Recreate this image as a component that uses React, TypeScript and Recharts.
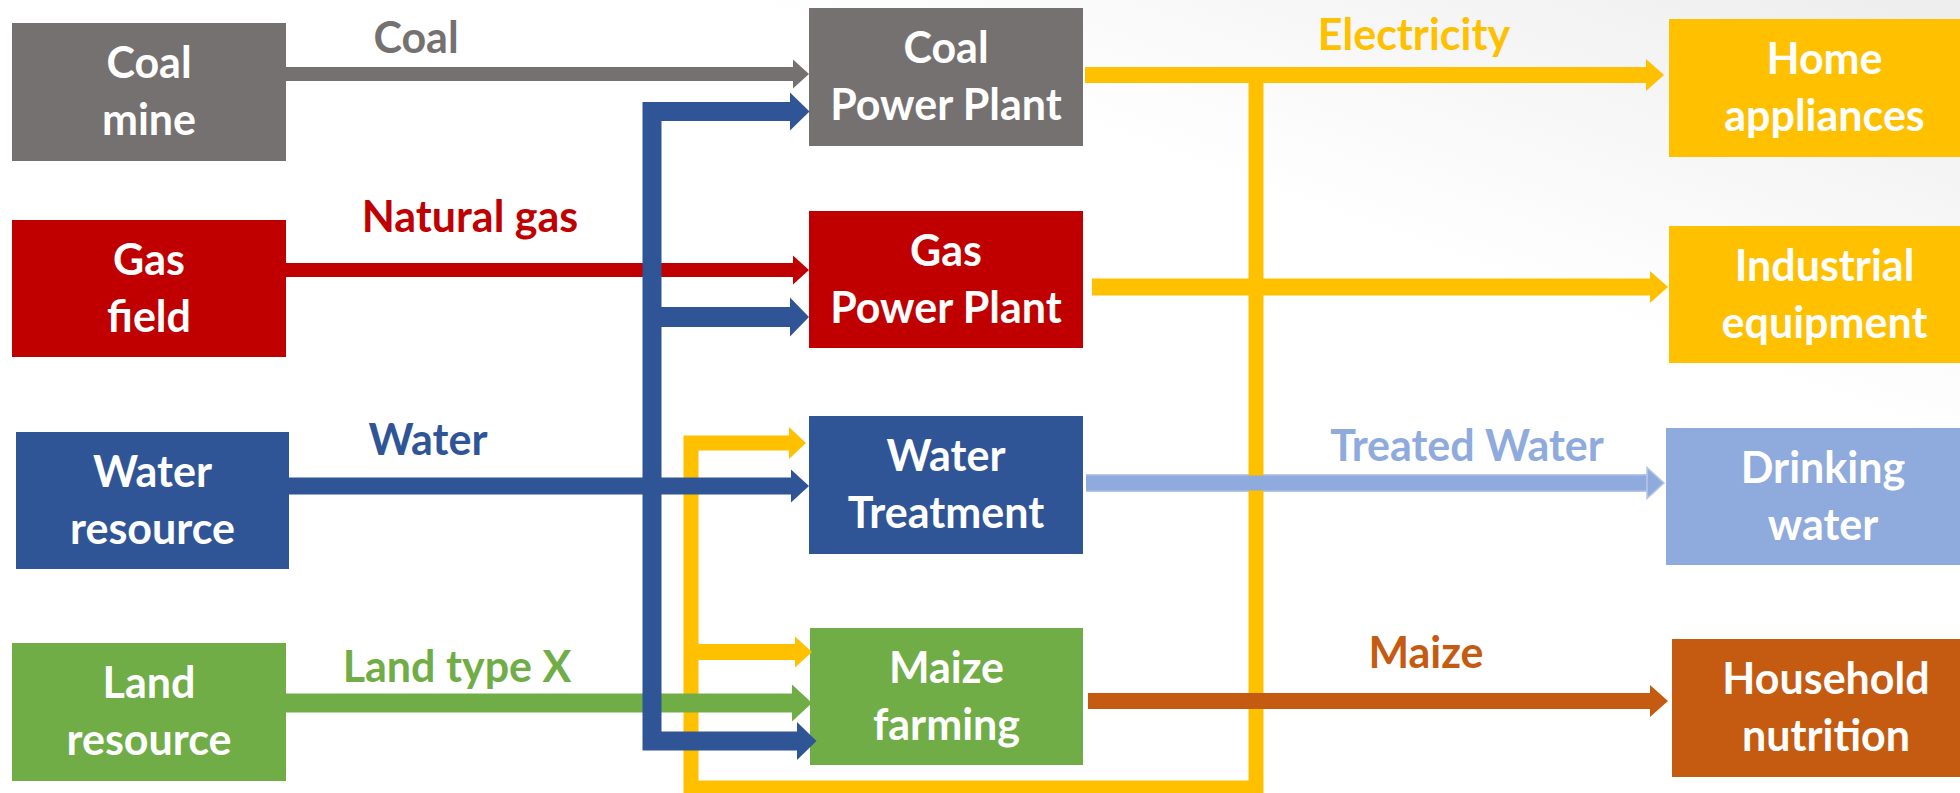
import React from 'react';
import { ComposedChart, XAxis, YAxis, Line, ReferenceArea, Scatter } from 'recharts';

// ---------------- data ----------------
const nodeIds = ['coalMine', 'gasField', 'waterRes', 'landRes', 'coalPP', 'gasPP', 'waterTreat', 'maizeFarm', 'home', 'industrial', 'drinking', 'household'];
const nodeLabels = [
  ['Coal', 'mine'], ['Gas', 'field'], ['Water', 'resource'], ['Land', 'resource'],
  ['Coal', 'Power Plant'], ['Gas', 'Power Plant'], ['Water', 'Treatment'], ['Maize', 'farming'],
  ['Home', 'appliances'], ['Industrial', 'equipment'], ['Drinking', 'water'], ['Household', 'nutrition'],
];
const flowIds = ['coal', 'gas', 'water', 'land', 'elec', 'treated', 'maize'];
const flowLabels = ['Coal', 'Natural gas', 'Water', 'Land type X', 'Electricity', 'Treated Water', 'Maize'];

// ---------------- styles ----------------
const GRAY = '#767171';
const RED = '#C00000';
const BLUE = '#2F5597';
const GREEN = '#70AD47';
const YELLOW = '#FFC000';
const LBLUE = '#8FAADC';
const ORANGE = '#C55A11';
const FONT = 'Lato, "Open Sans", sans-serif';

const nodeColors = [GRAY, RED, BLUE, GREEN, GRAY, RED, BLUE, GREEN, YELLOW, YELLOW, LBLUE, ORANGE];
const flowColors = [GRAY, RED, BLUE, GREEN, YELLOW, LBLUE, ORANGE];

// ---------------- layout (diagram units) ----------------
const W = 1960;
const H = 793;
const boxes: Record<string, [number, number, number, number]> = {
  coalMine: [12, 286, 23, 161],
  gasField: [12, 286, 220, 357],
  waterRes: [16, 289, 432, 569],
  landRes: [12, 286, 643, 781],
  coalPP: [809, 1083, 8, 146],
  gasPP: [809, 1083, 211, 348],
  waterTreat: [809, 1083, 416, 554],
  maizeFarm: [810, 1083, 628, 765],
  home: [1669, 1980, 19, 157],
  industrial: [1669, 1980, 226, 363],
  drinking: [1666, 1980, 428, 565],
  household: [1672, 1980, 639, 777],
};
const labelAnchors: Record<string, [number, number]> = {
  coal: [416, 53],
  gas: [470, 232],
  water: [428, 455],
  land: [457, 682],
  elec: [1414, 50],
  treated: [1467, 461],
  maize: [1426, 668],
};

type Seg = { color: string; width: number; pts: [number, number][]; heads: number[]; len: number; half: number; outline?: string };
const segments: Seg[] = [
  { color: YELLOW, width: 15, pts: [[1256, 75], [1256, 788], [691, 788], [691, 443], [790, 443]], heads: [4], len: 16, half: 16 },
  { color: YELLOW, width: 16, pts: [[691, 652], [796, 652]], heads: [1], len: 16, half: 15.5 },
  { color: YELLOW, width: 16, pts: [[1085, 75], [1647, 75]], heads: [1], len: 17, half: 16 },
  { color: YELLOW, width: 17, pts: [[1092, 287], [1651, 287]], heads: [1], len: 17, half: 16 },
  { color: RED, width: 14, pts: [[286, 270], [794, 270]], heads: [1], len: 15, half: 14.5 },
  { color: GREEN, width: 19, pts: [[286, 703], [793, 703]], heads: [1], len: 19, half: 18.5 },
  { color: GRAY, width: 14, pts: [[286, 74], [794, 74]], heads: [1], len: 15, half: 14.5 },
  { color: BLUE, width: 19, pts: [[791, 111.5], [652, 111.5], [652, 741], [798, 741]], heads: [0, 3], len: 18.5, half: 19 },
  { color: BLUE, width: 20, pts: [[652, 317], [791, 317]], heads: [1], len: 18, half: 19.5 },
  { color: BLUE, width: 17, pts: [[289, 486], [792, 486]], heads: [1], len: 17, half: 16.5 },
  { color: LBLUE, width: 15, pts: [[1086, 483], [1648, 483]], heads: [1], len: 16, half: 15.5, outline: '#B4C7E7' },
  { color: ORANGE, width: 16, pts: [[1088, 701], [1651, 701]], heads: [1], len: 17, half: 16 },
];

const labelData = flowIds.map((id, i) => ({ x: labelAnchors[id][0], y: labelAnchors[id][1], text: flowLabels[i], color: flowColors[i] }));

const makeDot = (s: Seg) => (p: any) => {
  const { cx, cy, index } = p;
  if (!s.heads.includes(index)) return <g key={`d${index}`} />;
  const pts = `${cx - 1},${cy - s.half} ${cx + s.len},${cy} ${cx - 1},${cy + s.half}`;
  return (
    <polygon key={`d${index}`} points={pts} fill={s.color}
      stroke={s.outline || 'none'} strokeWidth={s.outline ? 1.5 : 0} strokeLinejoin="miter" />
  );
};

const boxShape = (idx: number) => (p: any) => {
  const { x, y, width, height } = p;
  const cx = x + width / 2;
  const cy = y + height / 2;
  const [l1, l2] = nodeLabels[idx];
  return (
    <g>
      <rect x={x} y={y} width={width} height={height} fill={nodeColors[idx]} />
      <text x={cx} y={cy - 14} textAnchor="middle" fill="#FFFFFF" fontFamily={FONT} fontWeight={700} fontSize={43}>{l1}</text>
      <text x={cx} y={cy + 43} textAnchor="middle" fill="#FFFFFF" fontFamily={FONT} fontWeight={700} fontSize={43}>{l2}</text>
    </g>
  );
};

const labelShape = (p: any) => {
  const { cx, cy, payload } = p;
  return (
    <text x={cx} y={cy} textAnchor="middle" fill={payload.color} fontFamily={FONT} fontWeight={700} fontSize={43}>
      {payload.text}
    </text>
  );
};

export default function App() {
  return (
    <div style={{ position: 'absolute', left: 0, top: 0, width: W, height: H, background: 'linear-gradient(200deg, #EDEDED 0%, #FFFFFF 30%, #FFFFFF 100%)' }}>
      <ComposedChart width={W} height={H} margin={{ top: 0, right: 0, bottom: 0, left: 0 }}>
        <XAxis type="number" dataKey="x" domain={[0, W]} hide allowDataOverflow />
        <YAxis type="number" dataKey="y" domain={[0, H]} reversed hide allowDataOverflow />
        {nodeIds.map((id, i) => {
          const [x0, x1, y0, y1] = boxes[id];
          return (
            <ReferenceArea key={id} x1={x0} x2={x1} y1={y0} y2={y1} ifOverflow="visible" shape={boxShape(i)} />
          );
        })}
        {segments.filter((s) => s.outline).map((s, i) => (
          <Line key={`o${i}`} data={s.pts.map(([x, y]) => ({ x, y }))} dataKey="y" stroke={s.outline} strokeWidth={s.width + 3}
            dot={false} activeDot={false} isAnimationActive={false} legendType="none" type="linear" />
        ))}
        {segments.map((s, i) => (
          <Line key={`s${i}`} data={s.pts.map(([x, y]) => ({ x, y }))} dataKey="y" stroke={s.color} strokeWidth={s.width}
            strokeLinejoin="miter" strokeLinecap="butt" dot={makeDot(s)} activeDot={false}
            isAnimationActive={false} legendType="none" type="linear" />
        ))}
        <Scatter data={labelData} dataKey="y" shape={labelShape} isAnimationActive={false} legendType="none" />
      </ComposedChart>
    </div>
  );
}
